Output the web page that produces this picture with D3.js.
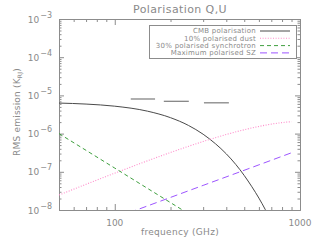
<!DOCTYPE html>
<html>
<head>
<meta charset="utf-8">
<script src="https://cdn.jsdelivr.net/npm/d3@7"></script>
<style>
  body { margin: 0; background: #fff; }
  svg text { font-family: "DejaVu Sans", sans-serif; fill: #8a8a8a; }
  .axis path, .axis line { stroke: #8c8c8c; stroke-width: 1; }
</style>
</head>
<body>
<svg id="svgmain" width="319" height="248"></svg>
<script>
// values (frequency in GHz, rms in K_RJ)
var cmbFreq = [50, 70, 100, 150, 200, 250, 300, 350, 400, 450, 500, 550, 600, 650, 700]
var cmbRms = [6.30e-6, 5.93e-6, 5.22e-6, 3.87e-6, 2.61e-6, 1.635e-6, 9.62e-7, 5.40e-7, 2.95e-7, 1.56e-7, 8.0e-8, 4.05e-8, 2.05e-8, 1.02e-8, 5.0e-9]

var dustFreq = [50, 100, 200, 300, 400, 500, 600, 700, 800, 900]
var dustRms = [2.47e-8, 9.22e-8, 3.20e-7, 6.21e-7, 9.47e-7, 1.261e-6, 1.541e-6, 1.769e-6, 1.940e-6, 2.051e-6]

var syncFreq = [50, 100, 200, 250]
var syncRms = [1.0e-6, 1.25e-7, 1.56e-8, 8.0e-9]

var szFreq = [120, 300, 600, 900]
var szRms = [8.55e-9, 4.41e-8, 1.52e-7, 3.15e-7]

// noise levels of the three channels (centre, band edges, level)
var bandCentre = [143, 217, 353]
var bandLow = [122, 184, 303]
var bandHigh = [165, 251, 413]
var bandRms = [8.05e-6, 7.0e-6, 6.4e-6]

var legendLabels = ["CMB polarisation", "10% polarised dust", "30% polarised synchrotron", "Maximum polarised SZ"]
var xMajor = [100, 1000]
var xMinor = [60, 70, 80, 90, 200, 300, 400, 500, 600, 700, 800, 900]
var yMajor = [1e-3, 1e-4, 1e-5, 1e-6, 1e-7, 1e-8]

var series = [
    {name: legendLabels[0], freq: cmbFreq, rms: cmbRms, color: "#4a4a4a", dash: null, width: 1},
    {name: legendLabels[1], freq: dustFreq, rms: dustRms, color: "#ff8ccb", dash: "1,1.6", width: 1.1},
    {name: legendLabels[2], freq: syncFreq, rms: syncRms, color: "#3f9f3f", dash: "4,3", width: 1},
    {name: legendLabels[3], freq: szFreq, rms: szRms, color: "#9d55ff", dash: "7,4", width: 1}
]

// plot box (window.top is read-only, so no bare "top" here)
var boxLeft = 59, boxRight = 300, boxTop = 19, boxBottom = 210
var x = d3.scaleLog().domain([50, 1000]).range([boxLeft, boxRight])
var y = d3.scaleLog().domain([1e-8, 1e-3]).range([boxBottom, boxTop])

var minorY = []
yMajor.slice(1).forEach(function(d) {
    for (var k = 2; k <= 9; k++) minorY.push(d * k)
})

var svg = d3.select("#svgmain")

svg.append("clipPath").attr("id", "plotclip")
    .append("rect")
    .attr("x", boxLeft).attr("y", boxTop)
    .attr("width", boxRight - boxLeft).attr("height", boxBottom - boxTop)

// axes, ticks pointing inwards like the original
function drawAxis(axisFn, pos, transform, ticks, size, withDomain) {
    var g = svg.append("g").attr("class", "axis").attr("transform", transform)
        .call(axisFn(pos).tickValues(ticks).tickSize(-size).tickFormat(""))
    if (!withDomain) g.select(".domain").remove()
    return g
}
drawAxis(d3.axisBottom, x, "translate(0," + boxBottom + ")", xMinor, 3, true)
drawAxis(d3.axisBottom, x, "translate(0," + boxBottom + ")", xMajor, 6, false)
drawAxis(d3.axisTop, x, "translate(0," + boxTop + ")", xMinor, 3, true)
drawAxis(d3.axisTop, x, "translate(0," + boxTop + ")", xMajor, 6, false)
drawAxis(d3.axisLeft, y, "translate(" + boxLeft + ",0)", minorY, 2.5, true)
drawAxis(d3.axisLeft, y, "translate(" + boxLeft + ",0)", yMajor, 5, false)
drawAxis(d3.axisRight, y, "translate(" + boxRight + ",0)", minorY, 2.5, true)
drawAxis(d3.axisRight, y, "translate(" + boxRight + ",0)", yMajor, 5, false)
svg.selectAll(".domain").attr("fill", "none")

// x tick labels
svg.selectAll(".xlabel").data(xMajor).enter().append("text")
    .attr("class", "xlabel")
    .attr("x", function(d) { return x(d) })
    .attr("y", 225.5)
    .attr("text-anchor", "middle")
    .attr("font-size", "9px")
    .text(function(d) { return d })

// y tick labels: 10 with superscript exponent
var ylab = svg.selectAll(".ylabel").data(yMajor).enter().append("text")
    .attr("class", "ylabel")
    .attr("x", 52)
    .attr("y", function(d) { return y(d) + 3.5 })
    .attr("text-anchor", "end")
    .attr("font-size", "9px")
ylab.append("tspan").text("10")
ylab.append("tspan")
    .attr("dx", 1)
    .attr("dy", -5)
    .attr("font-size", "8px")
    .text(function(d) { return "\u2212" + Math.round(-Math.log10(d)) })

// titles
svg.append("text").attr("x", 180).attr("y", 13)
    .attr("text-anchor", "middle").attr("font-size", "11px")
    .attr("letter-spacing", "0.4px")
    .text("Polarisation Q,U")

svg.append("text").attr("x", 180).attr("y", 235)
    .attr("text-anchor", "middle").attr("font-size", "9px")
    .attr("letter-spacing", "0.3px")
    .text("frequency (GHz)")

var ytitle = svg.append("text")
    .attr("transform", "translate(20,112) rotate(-90)")
    .attr("text-anchor", "middle").attr("font-size", "9px")
    .attr("letter-spacing", "0.2px")
ytitle.append("tspan").text("RMS emission (K")
ytitle.append("tspan").attr("dy", 2).attr("font-size", "6px").text("RJ")
ytitle.append("tspan").attr("dy", -2).text(")")

// curves
var plot = svg.append("g").attr("clip-path", "url(#plotclip)")
var line = d3.line()
    .x(function(d) { return x(d[0]) })
    .y(function(d) { return y(d[1]) })
    .curve(d3.curveMonotoneX)

series.forEach(function(s) {
    plot.append("path")
        .datum(d3.zip(s.freq, s.rms))
        .attr("d", line)
        .attr("fill", "none")
        .attr("stroke", s.color)
        .attr("stroke-width", s.width)
        .attr("stroke-dasharray", s.dash)
})

// channel noise bars
plot.selectAll(".band").data(bandCentre).enter().append("line")
    .attr("class", "band")
    .attr("x1", function(d, i) { return x(bandLow[i]) })
    .attr("x2", function(d, i) { return x(bandHigh[i]) })
    .attr("y1", function(d, i) { return y(bandRms[i]) })
    .attr("y2", function(d, i) { return y(bandRms[i]) })
    .attr("stroke", "#858585")
    .attr("stroke-width", 1.3)

// legend
var legend = svg.append("g")
legend.append("rect")
    .attr("x", 149.5).attr("y", 25.5).attr("width", 147).attr("height", 33)
    .attr("fill", "#fff").attr("stroke", "#8c8c8c")
series.forEach(function(s, i) {
    var ly = 31 + i * 7.3
    legend.append("text")
        .attr("x", 256).attr("y", ly + 2.4)
        .attr("text-anchor", "end").attr("font-size", "7px")
        .attr("letter-spacing", "0.25px")
        .text(s.name)
    legend.append("line")
        .attr("x1", 260).attr("x2", 290).attr("y1", ly).attr("y2", ly)
        .attr("stroke", s.color)
        .attr("stroke-width", s.width)
        .attr("stroke-dasharray", s.dash)
})
</script>
</body>
</html>
